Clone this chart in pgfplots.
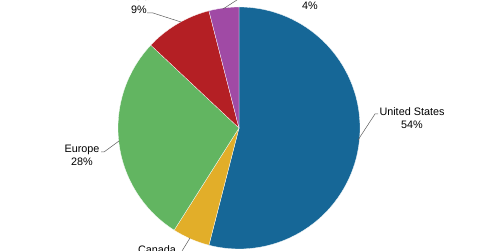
\documentclass[border=0pt]{standalone}
\usepackage{pgfplots}
\usepackage{pgfplotstable}
\pgfplotsset{compat=1.18}
\usepackage{fontspec}
\setmainfont{Liberation Sans}
\definecolor{cUS}{RGB}{22,103,151}
\definecolor{cCA}{RGB}{226,174,41}
\definecolor{cEU}{RGB}{98,181,97}
\definecolor{cAS}{RGB}{180,31,36}
\definecolor{cOT}{RGB}{160,74,165}
\definecolor{lead}{RGB}{90,90,90}
\pgfplotstableread{
label value
US 54
Canada 5
Europe 28
Asia 9
Other 4
}\piedata
\begin{document}
\pgfplotstablegetelem{0}{value}\of\piedata \pgfmathsetmacro\aA{90-3.6*\pgfplotsretval}%
\pgfplotstablegetelem{1}{value}\of\piedata \pgfmathsetmacro\aB{\aA-3.6*\pgfplotsretval}%
\pgfplotstablegetelem{2}{value}\of\piedata \pgfmathsetmacro\aC{\aB-3.6*\pgfplotsretval}%
\pgfplotstablegetelem{3}{value}\of\piedata \pgfmathsetmacro\aD{\aC-3.6*\pgfplotsretval}%
\pgfplotstablegetelem{4}{value}\of\piedata \pgfmathsetmacro\aE{\aD-3.6*\pgfplotsretval}%
\def\pieR{3.025cm}%
\begin{tikzpicture}
\path[use as bounding box] (0,0) rectangle (12cm,6.275cm);
\clip (0,0) rectangle (12cm,6.275cm);
\begin{axis}[at={(0,0)},anchor=south west,width=12cm,height=6.275cm,scale only axis,
  xmin=0,xmax=480,ymin=0,ymax=251,y dir=reverse,hide axis,clip=false]
\fill[cUS,draw=white,line width=0.2pt] (axis cs:239,128) -- ++(90:\pieR) arc[start angle=90,end angle=\aA,radius=\pieR] -- cycle;
\fill[cCA,draw=white,line width=0.2pt] (axis cs:239,128) -- ++(\aA:\pieR) arc[start angle=\aA,end angle=\aB,radius=\pieR] -- cycle;
\fill[cEU,draw=white,line width=0.2pt] (axis cs:239,128) -- ++(\aB:\pieR) arc[start angle=\aB,end angle=\aC,radius=\pieR] -- cycle;
\fill[cAS,draw=white,line width=0.2pt] (axis cs:239,128) -- ++(\aC:\pieR) arc[start angle=\aC,end angle=\aD,radius=\pieR] -- cycle;
\fill[cOT,draw=white,line width=0.2pt] (axis cs:239,128) -- ++(\aD:\pieR) arc[start angle=\aD,end angle=\aE,radius=\pieR] -- cycle;
\draw[lead,line width=0.35pt] (axis cs:358,140) -- (axis cs:375,114) -- (axis cs:378,114);
\draw[lead,line width=0.35pt] (axis cs:119,141) -- (axis cs:104,152) -- (axis cs:101,152);
\draw[lead,line width=0.35pt] (axis cs:147,13) -- (axis cs:153,13) -- (axis cs:181,22);
\draw[lead,line width=0.35pt] (axis cs:223,9) -- (axis cs:240,-2) -- (axis cs:280,-2);
\draw[lead,line width=0.35pt] (axis cs:190,238) -- (axis cs:182,251);
\node[align=center,font=\fontsize{7.7}{9.2}\selectfont,inner sep=0pt] at (axis cs:412,118.5) {United States\\54\%};
\node[align=center,font=\fontsize{7.7}{9.2}\selectfont,inner sep=0pt] at (axis cs:82,155.5) {Europe\\28\%};
\node[align=center,font=\fontsize{7.7}{9.2}\selectfont,inner sep=0pt] at (axis cs:139,3.5) {Asia\\9\%};
\node[align=center,font=\fontsize{7.7}{9.2}\selectfont,inner sep=0pt] at (axis cs:310,-1) {Other\\4\%};
\node[align=center,font=\fontsize{7.7}{9.2}\selectfont,inner sep=0pt] at (axis cs:157,256.5) {Canada\\5\%};
\end{axis}
\end{tikzpicture}
\end{document}
